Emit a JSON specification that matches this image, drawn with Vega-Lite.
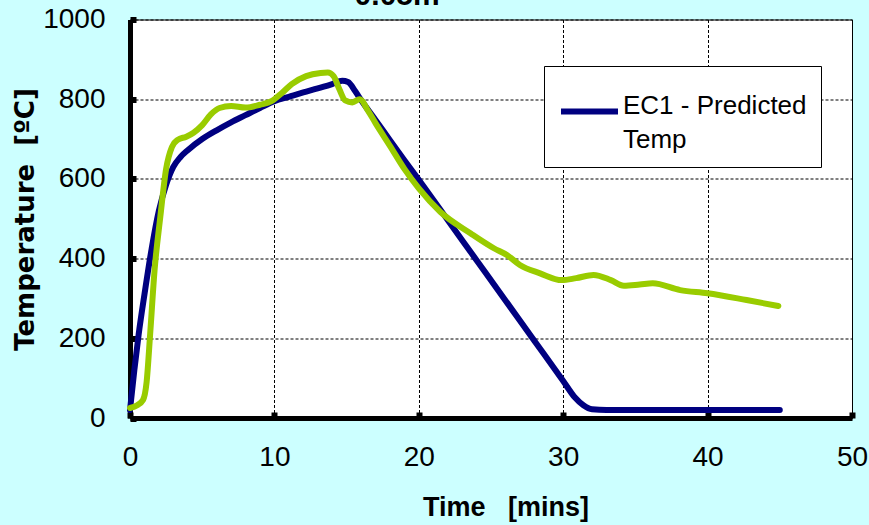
{
  "$schema": "https://vega.github.io/schema/vega-lite/v6.json",
  "width": 722,
  "height": 398.5,
  "autosize": {"type": "none"},
  "padding": {"left": 130, "top": 19.5, "right": 17, "bottom": 106.5},
  "background": "#CCFFFF",
  "config": {
    "view": {"stroke": "black", "strokeWidth": 1, "fill": "white"},
    "axis": {
      "domainColor": "black",
      "domainWidth": 5,
      "tickColor": "black",
      "tickWidth": 6,
      "tickSize": -6,
      "labelFont": "Liberation Sans",
      "labelFontSize": 28,
      "labelColor": "black",
      "labelPadding": 31,
      "labelFlush": false,
      "grid": true,
      "gridColor": "black",
      "gridDash": [3, 2],
      "gridWidth": 1,
      "gridOpacity": 1,
      "titleColor": "black",
      "titleFontWeight": "bold"
    }
  },
  "layer": [
    {
      "data": {
        "values": [
          {"t": 0, "T": 20, "s": "EC1 - Predicted Temp"},
          {"t": 0.3, "T": 120, "s": "EC1 - Predicted Temp"},
          {"t": 0.6, "T": 210, "s": "EC1 - Predicted Temp"},
          {"t": 1, "T": 310, "s": "EC1 - Predicted Temp"},
          {"t": 1.5, "T": 425, "s": "EC1 - Predicted Temp"},
          {"t": 2, "T": 520, "s": "EC1 - Predicted Temp"},
          {"t": 2.5, "T": 585, "s": "EC1 - Predicted Temp"},
          {"t": 3, "T": 630, "s": "EC1 - Predicted Temp"},
          {"t": 3.5, "T": 655, "s": "EC1 - Predicted Temp"},
          {"t": 4, "T": 672, "s": "EC1 - Predicted Temp"},
          {"t": 5, "T": 700, "s": "EC1 - Predicted Temp"},
          {"t": 6, "T": 722, "s": "EC1 - Predicted Temp"},
          {"t": 7, "T": 742, "s": "EC1 - Predicted Temp"},
          {"t": 8, "T": 760, "s": "EC1 - Predicted Temp"},
          {"t": 9, "T": 778, "s": "EC1 - Predicted Temp"},
          {"t": 10, "T": 795, "s": "EC1 - Predicted Temp"},
          {"t": 11, "T": 806, "s": "EC1 - Predicted Temp"},
          {"t": 12, "T": 817, "s": "EC1 - Predicted Temp"},
          {"t": 13, "T": 827, "s": "EC1 - Predicted Temp"},
          {"t": 14, "T": 838, "s": "EC1 - Predicted Temp"},
          {"t": 14.7, "T": 846, "s": "EC1 - Predicted Temp"},
          {"t": 15.1, "T": 843, "s": "EC1 - Predicted Temp"},
          {"t": 15.6, "T": 820, "s": "EC1 - Predicted Temp"},
          {"t": 16, "T": 798, "s": "EC1 - Predicted Temp"},
          {"t": 17, "T": 748, "s": "EC1 - Predicted Temp"},
          {"t": 18, "T": 697, "s": "EC1 - Predicted Temp"},
          {"t": 19, "T": 647, "s": "EC1 - Predicted Temp"},
          {"t": 20, "T": 598, "s": "EC1 - Predicted Temp"},
          {"t": 22, "T": 497, "s": "EC1 - Predicted Temp"},
          {"t": 24, "T": 396, "s": "EC1 - Predicted Temp"},
          {"t": 26, "T": 295, "s": "EC1 - Predicted Temp"},
          {"t": 28, "T": 194, "s": "EC1 - Predicted Temp"},
          {"t": 30, "T": 93, "s": "EC1 - Predicted Temp"},
          {"t": 30.8, "T": 52, "s": "EC1 - Predicted Temp"},
          {"t": 31.4, "T": 32, "s": "EC1 - Predicted Temp"},
          {"t": 32, "T": 22, "s": "EC1 - Predicted Temp"},
          {"t": 33, "T": 20, "s": "EC1 - Predicted Temp"},
          {"t": 45, "T": 20, "s": "EC1 - Predicted Temp"},
          {"t": 0, "T": 25, "s": "Measured"},
          {"t": 0.5, "T": 32, "s": "Measured"},
          {"t": 0.9, "T": 45, "s": "Measured"},
          {"t": 1.15, "T": 90, "s": "Measured"},
          {"t": 1.4, "T": 213, "s": "Measured"},
          {"t": 1.7, "T": 370, "s": "Measured"},
          {"t": 2.1, "T": 505, "s": "Measured"},
          {"t": 2.5, "T": 625, "s": "Measured"},
          {"t": 2.9, "T": 680, "s": "Measured"},
          {"t": 3.3, "T": 698, "s": "Measured"},
          {"t": 3.9, "T": 706, "s": "Measured"},
          {"t": 4.4, "T": 716, "s": "Measured"},
          {"t": 5.0, "T": 735, "s": "Measured"},
          {"t": 5.6, "T": 762, "s": "Measured"},
          {"t": 6.2, "T": 778, "s": "Measured"},
          {"t": 7.0, "T": 783, "s": "Measured"},
          {"t": 8.0, "T": 779, "s": "Measured"},
          {"t": 9.0, "T": 786, "s": "Measured"},
          {"t": 9.8, "T": 795, "s": "Measured"},
          {"t": 10.5, "T": 815, "s": "Measured"},
          {"t": 11.2, "T": 838, "s": "Measured"},
          {"t": 12.2, "T": 858, "s": "Measured"},
          {"t": 13.2, "T": 866, "s": "Measured"},
          {"t": 13.7, "T": 867, "s": "Measured"},
          {"t": 14.1, "T": 858, "s": "Measured"},
          {"t": 14.5, "T": 825, "s": "Measured"},
          {"t": 14.9, "T": 797, "s": "Measured"},
          {"t": 15.4, "T": 792, "s": "Measured"},
          {"t": 15.9, "T": 800, "s": "Measured"},
          {"t": 16.5, "T": 770, "s": "Measured"},
          {"t": 17, "T": 740, "s": "Measured"},
          {"t": 18, "T": 683, "s": "Measured"},
          {"t": 19, "T": 625, "s": "Measured"},
          {"t": 20, "T": 576, "s": "Measured"},
          {"t": 21.5, "T": 517, "s": "Measured"},
          {"t": 23.6, "T": 463, "s": "Measured"},
          {"t": 25.2, "T": 426, "s": "Measured"},
          {"t": 26.1, "T": 409, "s": "Measured"},
          {"t": 27, "T": 384, "s": "Measured"},
          {"t": 28.4, "T": 363, "s": "Measured"},
          {"t": 29.9, "T": 346, "s": "Measured"},
          {"t": 30.9, "T": 351, "s": "Measured"},
          {"t": 32.1, "T": 359, "s": "Measured"},
          {"t": 33.3, "T": 346, "s": "Measured"},
          {"t": 34.2, "T": 332, "s": "Measured"},
          {"t": 35.3, "T": 335, "s": "Measured"},
          {"t": 36.2, "T": 338, "s": "Measured"},
          {"t": 38.1, "T": 321, "s": "Measured"},
          {"t": 40, "T": 313, "s": "Measured"},
          {"t": 42.7, "T": 296, "s": "Measured"},
          {"t": 44.9, "T": 281, "s": "Measured"}
        ]
      },
      "mark": {"type": "line", "strokeWidth": 6, "strokeCap": "round", "strokeJoin": "round", "interpolate": "monotone"},
      "encoding": {
        "x": {
          "field": "t",
          "type": "quantitative",
          "scale": {"domain": [0, 50], "nice": false},
          "axis": {
            "values": [0, 10, 20, 30, 40, 50],
            "title": "Time\u00a0\u00a0\u00a0[mins]",
            "titleFont": "Liberation Sans",
            "titleFontSize": 27,
            "titleX": 375.5,
            "titleY": 97,
            "titleBaseline": "alphabetic",
            "titleAlign": "center"
          }
        },
        "y": {
          "field": "T",
          "type": "quantitative",
          "scale": {"domain": [0, 1000], "nice": false},
          "axis": {
            "values": [0, 200, 400, 600, 800, 1000],
            "format": "d",
            "title": "Temperature\u00a0\u00a0[ºC]",
            "titleFont": "DejaVu Sans",
            "titleFontSize": 26,
            "titleAngle": -90,
            "titleX": -105,
            "titleY": 199.5,
            "titleBaseline": "middle",
            "titleAlign": "center"
          }
        },
        "color": {
          "field": "s",
          "type": "nominal",
          "scale": {"domain": ["EC1 - Predicted Temp", "Measured"], "range": ["#000080", "#99CC00"]},
          "legend": {
            "values": ["EC1 - Predicted Temp"],
            "title": null,
            "orient": "none",
            "legendX": 414,
            "legendY": 46.5,
            "fillColor": "white",
            "strokeColor": "black",
            "padding": 14,
            "symbolType": "stroke",
            "symbolSize": 3249,
            "symbolStrokeWidth": 6,
            "labelFont": "Liberation Sans",
            "labelFontSize": 26,
            "labelColor": "black",
            "labelOffset": 2,
            "labelLimit": 0,
            "labelExpr": "['EC1 - Predicted', 'Temp']",
            "encoding": {
              "labels": {"lineHeight": {"value": 34}, "dy": {"value": -6}}
            }
          }
        }
      }
    },
    {
      "data": {"values": [{"t": 18.5, "T": 1036, "label": "0.05m"}]},
      "mark": {"type": "text", "font": "Liberation Sans", "fontSize": 30, "fontWeight": "bold", "baseline": "alphabetic", "align": "center", "color": "black", "clip": false},
      "encoding": {
        "x": {"field": "t", "type": "quantitative"},
        "y": {"field": "T", "type": "quantitative"},
        "text": {"field": "label", "type": "nominal"}
      }
    }
  ]
}
